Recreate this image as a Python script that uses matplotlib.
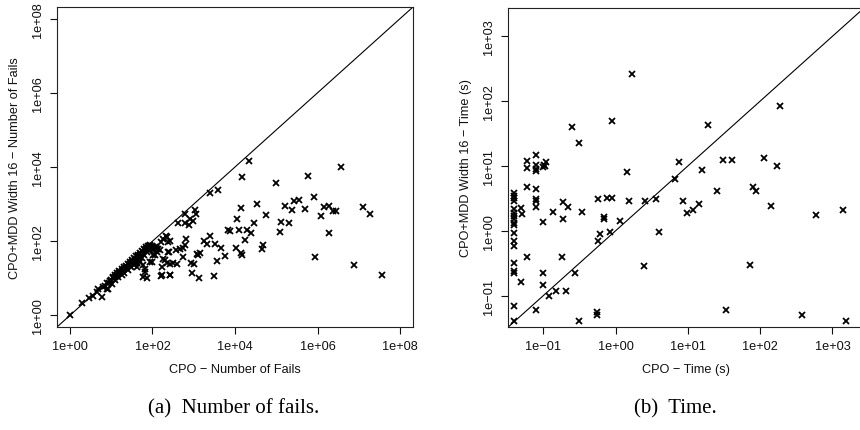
import numpy as np
import matplotlib
matplotlib.use("Agg")
import matplotlib.pyplot as plt
from matplotlib.ticker import FixedLocator, FuncFormatter, NullLocator

# ---- Panel (a): number of fails, log10 values (CPO on x, CPO+MDD width 16 on y)
fails_cpo_log10 = [
    0.00, 0.30, 0.47, 0.56, 0.65, 0.69, 0.78, 0.89, 0.81, 0.86,
    0.89, 0.93, 0.95, 0.98, 1.00, 1.02, 1.05, 1.08, 1.10, 1.12,
    1.15, 1.17, 1.20, 1.22, 1.25, 1.27, 1.30, 1.32, 1.35, 1.37,
    1.40, 1.42, 1.45, 1.47, 1.50, 1.52, 1.55, 1.57, 1.60, 1.62,
    1.64, 1.66, 1.68, 1.70, 1.72, 1.74, 1.76, 1.78, 1.80, 1.82,
    1.84, 1.86, 1.88, 1.90, 1.92, 1.94, 1.96, 1.98, 2.00, 2.02,
    2.04, 2.06, 2.08, 2.10, 1.85, 1.88, 1.92, 1.95, 1.80, 1.75,
    1.70, 1.65, 1.60, 1.55, 1.45, 1.35, 1.25, 1.15, 1.05, 1.10,
    1.20, 1.30, 1.40, 1.50, 1.58, 1.62, 1.70, 1.78, 1.83, 1.86,
    1.78, 1.98, 2.05, 2.10, 2.02, 1.94, 1.82, 2.14, 2.18, 2.26,
    2.38, 2.30, 2.34, 2.50, 2.58, 2.22, 2.42,
    2.32, 2.35, 2.43, 2.21, 2.38, 2.41, 2.26, 2.24, 2.42, 2.42,
    2.21, 2.60, 2.74, 2.73, 2.79, 2.82, 2.66,
    2.62, 2.78, 2.91, 2.88, 2.79, 2.97, 3.02, 3.06,
    2.93, 3.01, 3.07, 3.14, 3.10, 2.95, 3.12,
    3.39, 3.25, 3.33, 3.52, 3.67, 3.75, 3.56, 3.48,
    3.40, 3.59,
    3.83, 3.88, 4.10, 4.28, 4.39, 4.25, 4.02, 4.15, 4.17, 4.65,
    4.69, 4.04, 4.15, 4.46, 4.54, 4.75, 4.33, 4.16,
    5.00, 5.12, 5.10, 5.32, 5.22, 5.38, 5.43, 5.55, 5.69, 5.78,
    5.92, 5.94,
    6.08, 6.16, 6.27, 6.29, 6.37, 6.45, 6.57, 6.88, 7.10, 7.27,
    7.56,
]
fails_mdd_log10 = [
    0.00, 0.32, 0.48, 0.52, 0.63, 0.70, 0.50, 0.72, 0.77, 0.80,
    0.86, 0.70, 0.88, 0.93, 0.95, 0.85, 1.00, 1.02, 0.96, 1.06,
    1.10, 1.02, 1.14, 1.17, 1.08, 1.20, 1.25, 1.15, 1.28, 1.30,
    1.22, 1.36, 1.38, 1.30, 1.44, 1.46, 1.35, 1.50, 1.52, 1.42,
    1.57, 1.60, 1.50, 1.63, 1.66, 1.55, 1.70, 1.72, 1.62, 1.76,
    1.78, 1.70, 1.80, 1.82, 1.75, 1.84, 1.85, 1.78, 1.86, 1.85,
    1.80, 1.84, 1.82, 1.78, 1.84, 1.87, 1.88, 1.90, 1.80, 1.74,
    1.69, 1.64, 1.59, 1.54, 1.44, 1.34, 1.24, 1.14, 1.04, 1.09,
    1.19, 1.29, 1.39, 1.49, 1.40, 1.30, 1.45, 1.35, 1.17, 1.01,
    1.04, 1.44, 1.62, 1.70, 1.62, 1.44, 1.26, 1.80, 1.76, 2.07,
    1.98, 1.49, 1.40, 1.40, 1.76, 1.08, 1.09,
    2.14, 2.10, 2.01, 1.99, 1.71, 1.72, 1.53, 1.31, 1.38, 1.09,
    1.06, 1.38, 1.58, 1.82, 1.89, 2.05, 1.80,
    2.50, 2.73, 2.61, 2.43, 2.50, 2.55, 2.85, 2.73,
    1.41, 1.38, 1.65, 1.67, 1.62, 1.15, 1.01,
    2.14, 2.00, 1.92, 1.91, 1.82, 1.59, 1.47, 1.06,
    3.29, 3.37,
    2.31, 2.28, 2.31, 2.29, 2.23, 2.04, 1.82, 1.69, 1.62, 1.78,
    1.89, 2.59, 2.90, 2.50, 2.99, 2.70, 4.16, 3.72,
    3.56, 2.52, 2.26, 2.50, 2.95, 2.83, 3.09, 3.12, 2.88, 3.77,
    3.19, 1.57,
    2.68, 2.93, 2.95, 2.23, 2.82, 2.82, 4.01, 1.37, 2.91, 2.74,
    1.09,
]

# ---- Panel (b): run time in seconds, log10 values
time_cpo_log10 = [
    0.230, 2.277, -0.051, 1.272, -0.608, -0.512, -1.101, -1.226, -1.101, -1.226,
    -1.101, -1.101, -0.990, -0.963, -0.972, -1.010, 0.161, 0.871, 1.198, 0.820,
    1.493, 1.608, 2.060, 2.240, -1.230, -1.101,
    -1.40, -1.40, -1.40, -1.40, -1.40, -1.40, -1.40, -1.40, -1.40, -1.40,
    -1.40, -1.40, -1.40, -1.40, -1.40, -1.40, -1.40, -1.40,
    -1.313, -1.300, -1.101, -1.101, -1.101, -0.728, -0.659, -0.862, -0.724, -0.461,
    -1.005, -0.240, -0.120, -0.046, -0.157, -0.166, 0.060, -0.217, -0.249, -0.083,
    0.184, 0.410, 0.562, 0.600, 0.935, 0.982, 1.074, 1.161, 1.401, 1.899,
    1.936, 2.147, 2.770, 3.147, -1.226, -0.747, -1.309, -1.009, -1.009, -0.829,
    -0.926, -0.687, -0.562, 0.392, 1.853, -1.101, -0.512, -0.263, -0.263, 1.521,
    2.581, 3.194,
]
time_mdd_log10 = [
    2.414, 1.925, 1.694, 1.638, 1.607, 1.355, 1.170, 1.077, 1.010, 0.964,
    0.918, 0.954, 1.020, 1.060, 1.000, 0.980, 0.913, 1.067, 0.943, 0.800,
    1.093, 1.087, 1.123, 1.005, 0.681, 0.650,
    0.578, 0.542, 0.506, 0.465, 0.337, 0.270, 0.234, 0.183, 0.121, 0.090,
    -0.033, -0.157, -0.229, -0.496, -0.614, -0.650, -1.154, -1.396,
    0.347, 0.260, 0.490, 0.455, 0.373, 0.440, 0.368, 0.286, 0.183, 0.296,
    0.140, 0.491, 0.500, 0.510, 0.208, 0.180, 0.157, -0.049, -0.162, -0.023,
    0.465, 0.465, 0.491, -0.013, 0.465, 0.280, 0.321, 0.419, 0.614, 0.671,
    0.609, 0.388, 0.244, 0.326, -0.409, -0.398, -0.794, -0.656, -0.830, -0.923,
    -1.000, -0.923, -0.656, -0.537, -0.522, -1.221, -1.396, -1.257, -1.298, -1.221,
    -1.298, -1.396,
]

fails_ticks = [1e0, 1e2, 1e4, 1e6, 1e8]
time_ticks = [1e-1, 1e0, 1e1, 1e2, 1e3]
fails_lim = (10 ** -0.315, 10 ** 8.315)
time_lim = (10 ** -1.484, 10 ** 3.437)

plt.rcParams["font.family"] = ["Liberation Sans", "DejaVu Sans"]
plt.rcParams["font.size"] = 9


def r_sci(v, _pos=None):
    e = int(round(np.log10(v)))
    sign = "+" if e >= 0 else "\u2212"
    return f"1e{sign}{abs(e):02d}"


def style_axes(ax, ticks, lim):
    ax.set_xscale("log")
    ax.set_yscale("log")
    ax.set_xlim(*lim)
    ax.set_ylim(*lim)
    for axis in (ax.xaxis, ax.yaxis):
        axis.set_major_locator(FixedLocator(ticks))
        axis.set_minor_locator(NullLocator())
        axis.set_major_formatter(FuncFormatter(r_sci))
    ax.tick_params(direction="out", length=5, width=0.8, pad=4.5, labelsize=9.2,
                   colors="#111111")
    ax.tick_params(axis="y", labelrotation=90)
    for lab in ax.get_yticklabels():
        lab.set_va("center")
    for s in ax.spines.values():
        s.set_linewidth(0.8)
        s.set_color("#222222")
    ax.axline((1, 1), (10, 10), color="black", lw=0.8)


fig = plt.figure(figsize=(8.6, 4.31), dpi=100)
ax1 = fig.add_axes([57 / 860, 1 - 328 / 431, 356 / 860, 320 / 431])
ax2 = fig.add_axes([508.3 / 860, 1 - 328 / 431, 355.7 / 860, 319 / 431])

marker_style = dict(ls="none", marker="x", ms=4.6, mew=1.3, color="black")

style_axes(ax1, fails_ticks, fails_lim)
ax1.plot(10 ** np.array(fails_cpo_log10), 10 ** np.array(fails_mdd_log10),
         **marker_style)
ax1.set_xlabel("CPO \u2212 Number of Fails", labelpad=8, fontsize=9.2,
               color="#111111")
ax1.set_ylabel("CPO+MDD Width 16 \u2212 Number of Fails", labelpad=8,
               fontsize=9.2, color="#111111")

style_axes(ax2, time_ticks, time_lim)
ax2.plot(10 ** np.array(time_cpo_log10), 10 ** np.array(time_mdd_log10),
         **marker_style)
ax2.set_xlabel("CPO \u2212 Time (s)", labelpad=8, fontsize=9.2, color="#111111")
ax2.set_ylabel("CPO+MDD Width 16 \u2212 Time (s)", labelpad=8, fontsize=9.2,
               color="#111111")

serif = ["Liberation Serif", "DejaVu Serif"]
fig.text(0.272, 1 - 409 / 431, "(a)  Number of fails.", ha="center",
         va="center", family=serif, fontsize=15)
fig.text(0.785, 1 - 409 / 431, "(b)  Time.", ha="center", va="center",
         family=serif, fontsize=15)

fig.savefig("out.png", dpi=100)
